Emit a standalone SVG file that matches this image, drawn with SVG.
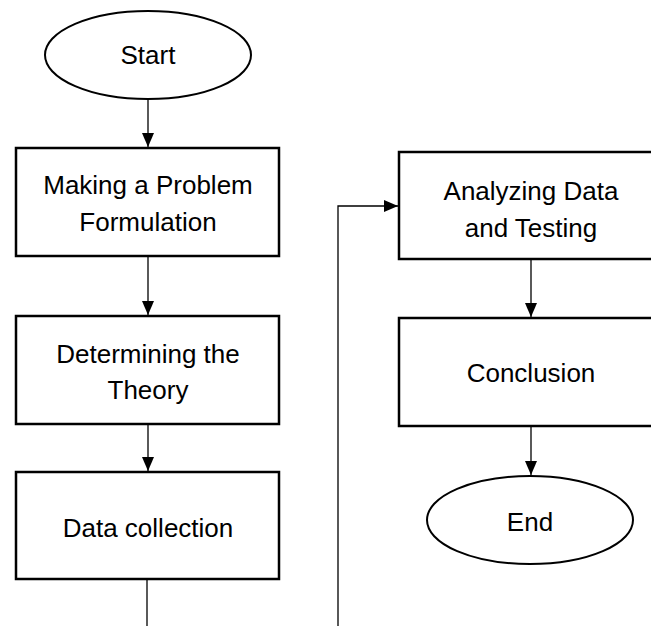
<svg xmlns="http://www.w3.org/2000/svg" width="651" height="626" viewBox="0 0 651 626">
<defs>
<marker id="arr" viewBox="0 0 14 12" refX="14" refY="6" markerWidth="14" markerHeight="12" markerUnits="userSpaceOnUse" orient="auto">
<path d="M0,0 L14,6 L0,12 Z" fill="#000"/>
</marker>
<style>
.box{fill:#fff;stroke:#000;stroke-width:2.5}
.ell{fill:#fff;stroke:#000;stroke-width:2}
.lbl{font-family:"Liberation Sans",Arial,sans-serif;font-size:26px;fill:#000;text-anchor:middle}
.con{fill:none;stroke:#000;stroke-width:1.3}
</style>
</defs>
<rect width="651" height="626" fill="#fff"/>
<g id="connectors">
<line class="con" x1="148" y1="99" x2="148" y2="147" marker-end="url(#arr)"/>
<line class="con" x1="148" y1="256" x2="148" y2="315" marker-end="url(#arr)"/>
<line class="con" x1="148" y1="424" x2="148" y2="471" marker-end="url(#arr)"/>
<line class="con" x1="147" y1="579" x2="147" y2="626"/>
<polyline class="con" points="338,626 338,206 398,206" marker-end="url(#arr)"/>
<line class="con" x1="531" y1="259" x2="531" y2="317" marker-end="url(#arr)"/>
<line class="con" x1="531" y1="426" x2="531" y2="475" marker-end="url(#arr)"/>
</g>
<g id="start">
<ellipse class="ell" cx="148" cy="55" rx="103" ry="44"/>
<text class="lbl" x="148" y="64">Start</text>
</g>
<g id="problem">
<rect class="box" x="16" y="148" width="263" height="108"/>
<text class="lbl" x="148" y="194">Making a Problem</text>
<text class="lbl" x="148" y="231">Formulation</text>
</g>
<g id="theory">
<rect class="box" x="16" y="316" width="263" height="108"/>
<text class="lbl" x="148" y="363">Determining the</text>
<text class="lbl" x="148" y="399">Theory</text>
</g>
<g id="collection">
<rect class="box" x="16" y="472" width="263" height="107"/>
<text class="lbl" x="148" y="537">Data collection</text>
</g>
<g id="analyzing">
<rect class="box" x="399" y="152" width="264" height="107"/>
<text class="lbl" x="531" y="200">Analyzing Data</text>
<text class="lbl" x="531" y="237">and Testing</text>
</g>
<g id="conclusion">
<rect class="box" x="399" y="318" width="264" height="108"/>
<text class="lbl" x="531" y="382">Conclusion</text>
</g>
<g id="end">
<ellipse class="ell" cx="530" cy="520" rx="103" ry="44"/>
<text class="lbl" x="530" y="531">End</text>
</g>
</svg>
